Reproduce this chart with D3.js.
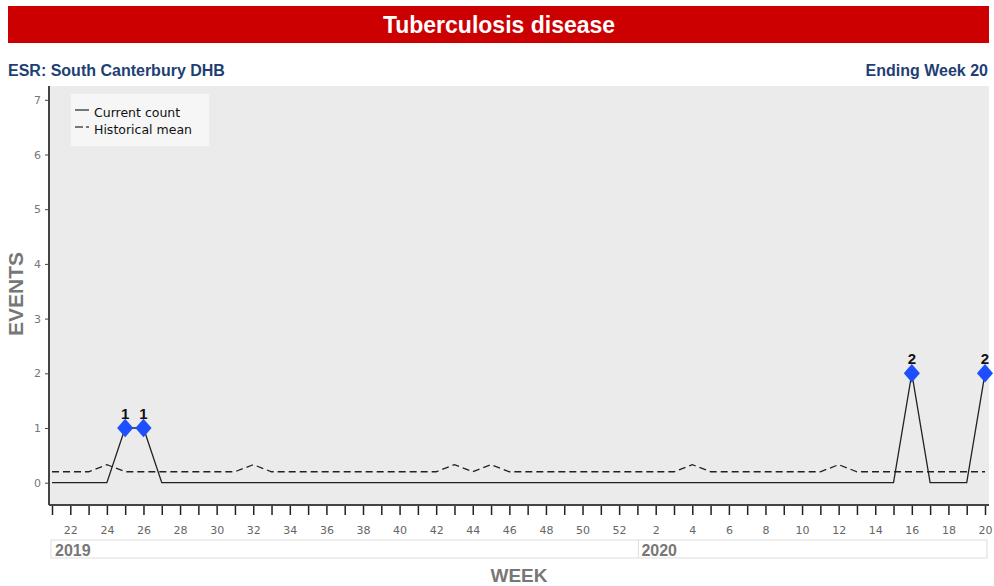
<!DOCTYPE html>
<html><head><meta charset="utf-8">
<script src="https://cdn.jsdelivr.net/npm/d3@7"></script>
<style>body{margin:0;background:#fff;}svg{display:block;font-family:"Liberation Sans",Arial,sans-serif;}</style>
</head><body><svg id="c" width="994" height="586"></svg>
<script>
const weekLabels = [21,22,23,24,25,26,27,28,29,30,31,32,33,34,35,36,37,38,39,40,41,42,43,44,45,46,47,48,49,50,51,52,1,2,3,4,5,6,7,8,9,10,11,12,13,14,15,16,17,18,19,20];
const years = [2019,2019,2019,2019,2019,2019,2019,2019,2019,2019,2019,2019,2019,2019,2019,2019,2019,2019,2019,2019,2019,2019,2019,2019,2019,2019,2019,2019,2019,2019,2019,2019,2020,2020,2020,2020,2020,2020,2020,2020,2020,2020,2020,2020,2020,2020,2020,2020,2020,2020,2020,2020];
const currentCount = [0,0,0,0,1,1,0,0,0,0,0,0,0,0,0,0,0,0,0,0,0,0,0,0,0,0,0,0,0,0,0,0,0,0,0,0,0,0,0,0,0,0,0,0,0,0,0,2,0,0,0,2];
const historicalMean = [0.2,0.2,0.2,0.33,0.2,0.2,0.2,0.2,0.2,0.2,0.2,0.33,0.2,0.2,0.2,0.2,0.2,0.2,0.2,0.2,0.2,0.2,0.33,0.2,0.33,0.2,0.2,0.2,0.2,0.2,0.2,0.2,0.2,0.2,0.2,0.33,0.2,0.2,0.2,0.2,0.2,0.2,0.2,0.33,0.2,0.2,0.2,0.2,0.2,0.2,0.2,0.2];
const yTicks = [0,1,2,3,4,5,6,7];

const svg = d3.select("#c");
// title bar
svg.append("rect").attr("x",8).attr("y",6).attr("width",981).attr("height",37).attr("fill","#cc0000");
svg.append("text").attr("x",499).attr("y",33).attr("text-anchor","middle").attr("fill","#fff")
  .attr("font-size",23).attr("font-weight","bold").text("Tuberculosis disease");
svg.append("text").attr("x",8).attr("y",76).attr("fill","#1f3f74").attr("font-size",16).attr("font-weight","bold").text("ESR: South Canterbury DHB");
svg.append("text").attr("x",988).attr("y",76).attr("text-anchor","end").attr("fill","#1f3f74").attr("font-size",16).attr("font-weight","bold").text("Ending Week 20");

const pL=49, pR=989, pT=86, pB=505;
const x = d3.scaleLinear().domain([0, weekLabels.length-1]).range([52, 985]);
const y = d3.scaleLinear().domain([0,1]).range([482.7, 428]);

svg.append("rect").attr("x",pL).attr("y",pT).attr("width",pR-pL).attr("height",pB-pT).attr("fill","#ebebeb");

// y axis
const yAxis = d3.axisLeft(y).tickValues(yTicks).tickSize(4).tickPadding(4).tickFormat(d3.format("d"));
const gy = svg.append("g").attr("transform",`translate(${pL},0)`).call(yAxis);
gy.select(".domain").remove();
gy.selectAll(".tick line").attr("stroke","#444");
gy.selectAll(".tick text").attr("fill","#777").attr("font-size",11).attr("font-family","DejaVu Sans");
svg.append("line").attr("x1",pL).attr("x2",pL).attr("y1",pT).attr("y2",pB).attr("stroke","#444").attr("stroke-width",2);

// x axis
const idx = d3.range(weekLabels.length);
const xAxis = d3.axisBottom(x).tickValues(idx).tickSize(10).tickPadding(11)
  .tickFormat(i => weekLabels[i] % 2 === 0 ? weekLabels[i] : "");
const gx = svg.append("g").attr("transform",`translate(0,${pB})`).call(xAxis);
gx.select(".domain").remove();
gx.selectAll(".tick line").attr("stroke","#222").attr("stroke-width",1.5);
gx.selectAll(".tick text").attr("fill","#666").attr("font-size",11).attr("font-family","DejaVu Sans");
svg.append("line").attr("x1",pL).attr("x2",pR).attr("y1",pB).attr("y2",pB).attr("stroke","#444").attr("stroke-width",2);

// year bar
const firstIdx2020 = years.indexOf(2020);
svg.append("rect").attr("x",51).attr("y",540).attr("width",936).attr("height",18).attr("fill","#fff").attr("stroke","#ddd");
const div = x(firstIdx2020)+1;
svg.append("line").attr("x1",div).attr("x2",div).attr("y1",540).attr("y2",558).attr("stroke","#ddd");
svg.append("text").attr("x",55).attr("y",556).attr("fill","#777").attr("font-size",16).attr("font-weight","bold").text(years[0]);
svg.append("text").attr("x",div+3).attr("y",556).attr("fill","#777").attr("font-size",16).attr("font-weight","bold").text(years[firstIdx2020]);

// axis titles
svg.append("text").attr("x",519).attr("y",582).attr("text-anchor","middle").attr("fill","#777").attr("font-size",19).attr("font-weight","bold").text("WEEK");
svg.append("text").attr("transform","translate(23,294) rotate(-90)").attr("text-anchor","middle").attr("fill","#777").attr("font-size",21).attr("font-weight","bold").text("EVENTS");

// lines
const line = d3.line().x((d,i)=>x(i)).y(d=>y(d));
svg.append("path").datum(historicalMean).attr("d",line).attr("fill","none").attr("stroke","#222").attr("stroke-width",1.3).attr("stroke-dasharray","7,4");
svg.append("path").datum(currentCount).attr("d",line).attr("fill","none").attr("stroke","#222").attr("stroke-width",1.3);

// markers
const pts = idx.filter(i=>currentCount[i]>0);
svg.selectAll(".mk").data(pts).enter().append("path")
  .attr("d", d3.symbol(d3.symbolSquare, 130))
  .attr("transform", i=>`translate(${x(i)},${y(currentCount[i])}) scale(1,1.15) rotate(45)`)
  .attr("fill","#1d4fff");
svg.selectAll(".lb").data(pts).enter().append("text")
  .attr("x",i=>x(i)).attr("y",i=>y(currentCount[i])-9).attr("text-anchor","middle")
  .attr("font-size",15).attr("font-weight","bold").attr("fill","#111").text(i=>currentCount[i]);

// legend
svg.append("rect").attr("x",71).attr("y",94).attr("width",138).attr("height",52).attr("fill","#f6f6f6");
svg.append("line").attr("x1",75).attr("x2",89).attr("y1",110).attr("y2",110).attr("stroke","#222").attr("stroke-width",1.2);
svg.append("line").attr("x1",75).attr("x2",83).attr("y1",127).attr("y2",127).attr("stroke","#222").attr("stroke-width",1.2);
svg.append("line").attr("x1",86).attr("x2",89).attr("y1",127).attr("y2",127).attr("stroke","#222").attr("stroke-width",1.2);
svg.append("text").attr("x",94).attr("y",117).attr("font-size",12.5).attr("font-family","DejaVu Sans").attr("fill","#111").text("Current count");
svg.append("text").attr("x",94).attr("y",134).attr("font-size",12.5).attr("font-family","DejaVu Sans").attr("fill","#111").text("Historical mean");
</script></body></html>
